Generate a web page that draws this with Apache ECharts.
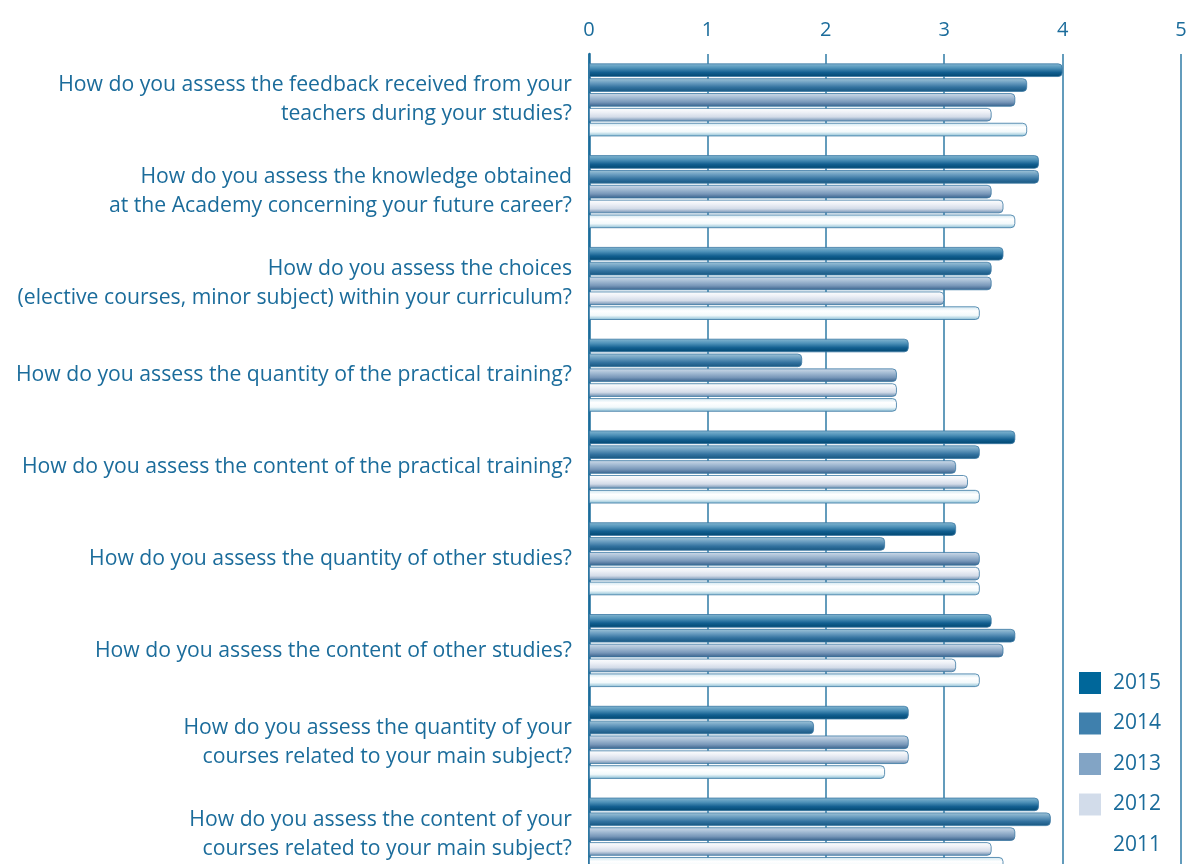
<!DOCTYPE html>
<html>
<head>
<meta charset="utf-8">
<script src="https://cdn.jsdelivr.net/npm/echarts@6/dist/echarts.min.js"></script>
<style>
  html, body { margin: 0; padding: 0; background: #fff; overflow: hidden; }
  #chart { width: 1192px; height: 900px; }
</style>
</head>
<body>
<div id="chart"></div>
<script>
// questions, top to bottom
const categories = [
  'How do you assess the feedback received from your\nteachers during your studies?',
  'How do you assess the knowledge obtained\nat the Academy concerning your future career?',
  'How do you assess the choices\n(elective courses, minor subject) within your curriculum?',
  'How do you assess the quantity of the practical training?',
  'How do you assess the content of the practical training?',
  'How do you assess the quantity of other studies?',
  'How do you assess the content of other studies?',
  'How do you assess the quantity of your\ncourses related to your main subject?',
  'How do you assess the content of your\ncourses related to your main subject?'
];
const years = ['2015', '2014', '2013', '2012', '2011'];
const v2015 = [4.0, 3.8, 3.5, 2.7, 3.6, 3.1, 3.4, 2.7, 3.8];
const v2014 = [3.7, 3.8, 3.4, 1.8, 3.3, 2.5, 3.6, 1.9, 3.9];
const v2013 = [3.6, 3.4, 3.4, 2.6, 3.1, 3.3, 3.5, 2.7, 3.6];
const v2012 = [3.4, 3.5, 3.0, 2.6, 3.2, 3.3, 3.1, 2.7, 3.4];
const v2011 = [3.7, 3.6, 3.3, 2.6, 3.3, 3.3, 3.3, 2.5, 3.5];

const textColor = '#1b6c9b';
const font = 'Open Sans';

// glossy vertical gradients per year (top light -> bottom dark)
function grad(stops) {
  return new echarts.graphic.LinearGradient(0, 0, 0, 1,
    stops.map(function (c, i) { return { offset: i / (stops.length - 1), color: c }; }));
}
const barColors = [
  grad(['#86b8d2', '#4f92b9', '#125f90', '#00466f']),
  grad(['#a2c6d9', '#6a9dc0', '#33729f', '#16557f']),
  grad(['#d0dcea', '#a3bbd3', '#7897b9', '#355f8a']),
  grad(['#ffffff', '#edf0f6', '#d3dbe8', '#6589ad']),
  grad(['#cfe6f0', '#ffffff', '#f2f9fb', '#86bcd3'])
];
const legendColors = ['#00679a', '#3f80ad', '#82a4c5', '#d2dcea', '#ffffff'];
const values = [v2015, v2014, v2013, v2012, v2011];

const chart = echarts.init(document.getElementById('chart'));
chart.setOption({
  animation: false,
  grid: { left: 589, right: 11, top: 54, height: 826 },
  xAxis: {
    type: 'value',
    position: 'top',
    min: 0, max: 5, interval: 1,
    axisLine: { show: false },
    axisTick: { show: false },
    axisLabel: { color: textColor, fontFamily: font, fontSize: 20, margin: 14 },
    splitLine: { lineStyle: { color: '#2f7ba6', width: 1.5 } }
  },
  yAxis: {
    type: 'category',
    inverse: true,
    data: categories,
    axisLine: { lineStyle: { color: '#1b6c9b', width: 2.5 } },
    axisTick: { show: false },
    axisLabel: { color: textColor, fontFamily: font, fontSize: 21.2, lineHeight: 29, margin: 17 }
  },
  legend: {
    orient: 'vertical',
    left: 1079, top: 672,
    padding: 0,
    itemWidth: 22, itemHeight: 22, itemGap: 18.5,
    textStyle: { color: textColor, fontFamily: font, fontSize: 21, padding: [0, 0, 0, 7] },
    data: years.map(function (y, i) {
      return { name: y, icon: 'rect', itemStyle: { color: legendColors[i], borderWidth: 0 } };
    })
  },
  series: years.map(function (y, i) {
    return {
      name: y,
      type: 'bar',
      data: values[i],
      barWidth: 13.5,
      barGap: '10%',
      itemStyle: {
        color: barColors[i],
        borderColor: '#3b79a3',
        borderWidth: 0.8,
        borderRadius: [0, 4, 4, 0]
      }
    };
  })
});
</script>
</body>
</html>
